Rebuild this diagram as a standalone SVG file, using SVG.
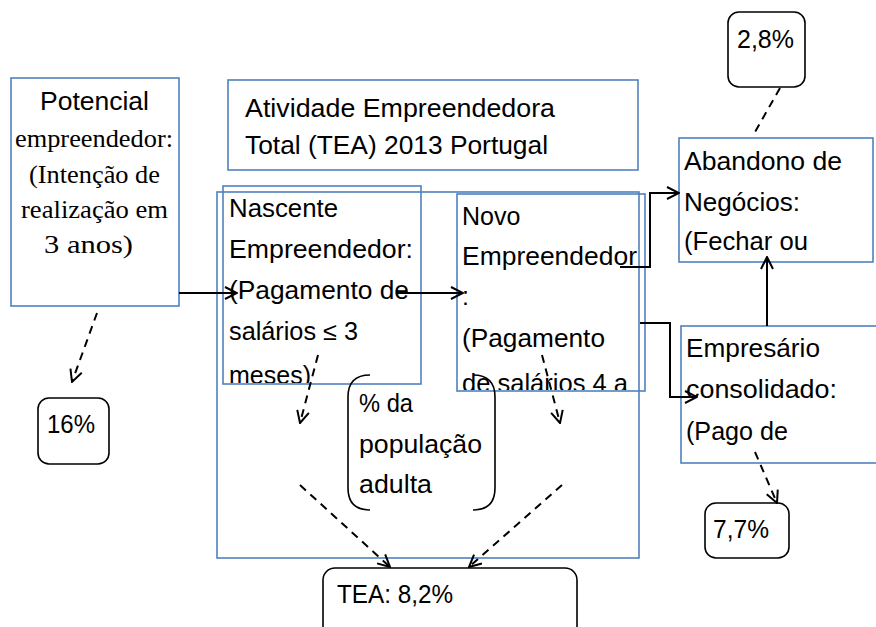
<svg xmlns="http://www.w3.org/2000/svg" width="876" height="627" viewBox="0 0 876 627">
<style>
.box{fill:none;stroke:#4F81BD;stroke-width:1.6}
.rbox{fill:none;stroke:#000;stroke-width:1.6}
.t{font-family:"Liberation Sans",Arial,sans-serif;font-size:25px;fill:#000}
.s{font-family:"Liberation Serif","Times New Roman",serif;font-size:25px;fill:#000}
.c{fill:none;stroke:#000;stroke-width:2;marker-end:url(#ah)}
.d{fill:none;stroke:#000;stroke-width:2;stroke-dasharray:8 6}
.da{marker-end:url(#ah)}
</style>
<defs>
<marker id="ah" markerUnits="userSpaceOnUse" viewBox="0 0 14 14" refX="13" refY="7" markerWidth="14" markerHeight="14" orient="auto">
<path d="M1,1 L13,7 L1,13" fill="none" stroke="#000" stroke-width="2"/>
</marker>
<clipPath id="clipN"><rect x="224" y="187" width="197" height="196"/></clipPath>
<clipPath id="clipV"><rect x="457" y="195" width="188" height="195"/></clipPath>
</defs>
<rect width="876" height="627" fill="#fff"/>

<g id="outer"><rect class="box" x="217" y="192" width="422" height="366"/></g>

<g id="potencial">
<rect class="box" x="11" y="78" width="168" height="228"/>
<text class="t" x="40" y="110" textLength="109" lengthAdjust="spacingAndGlyphs">Potencial</text>
<text class="s" x="15" y="147" textLength="158" lengthAdjust="spacingAndGlyphs">empreendedor:</text>
<text class="s" x="29" y="183" textLength="131" lengthAdjust="spacingAndGlyphs">(Intenção de</text>
<text class="s" x="21" y="218" textLength="147" lengthAdjust="spacingAndGlyphs">realização em</text>
<text class="s" x="44" y="253" textLength="89" lengthAdjust="spacingAndGlyphs">3 anos)</text>
</g>

<g id="titulo">
<rect class="box" x="228" y="80" width="410" height="90"/>
<text class="t" x="245" y="117" textLength="310" lengthAdjust="spacingAndGlyphs">Atividade Empreendedora</text>
<text class="t" x="245" y="154" textLength="303" lengthAdjust="spacingAndGlyphs">Total (TEA) 2013 Portugal</text>
</g>

<g id="nascente">
<rect class="box" x="223" y="186" width="198" height="198"/>
<g clip-path="url(#clipN)">
<text class="t" x="229" y="217" textLength="109" lengthAdjust="spacingAndGlyphs">Nascente</text>
<text class="t" x="229" y="258" textLength="184" lengthAdjust="spacingAndGlyphs">Empreendedor:</text>
<text class="t" x="229" y="299" textLength="180" lengthAdjust="spacingAndGlyphs">(Pagamento de</text>
<text class="t" x="229" y="340" textLength="129" lengthAdjust="spacingAndGlyphs">salários ≤ 3</text>
<text class="t" x="229" y="384">meses)</text>
</g>
</g>

<g id="novo">
<rect class="box" x="457" y="194" width="188" height="197"/>
<g clip-path="url(#clipV)">
<text class="t" x="462" y="225">Novo</text>
<text class="t" x="462" y="265" textLength="175" lengthAdjust="spacingAndGlyphs">Empreendedor</text>
<text class="t" x="462" y="305">:</text>
<text class="t" x="462" y="347" textLength="143" lengthAdjust="spacingAndGlyphs">(Pagamento</text>
<text class="t" x="462" y="392" textLength="166" lengthAdjust="spacingAndGlyphs">de salários 4 a</text>
</g>
</g>

<g id="abandono">
<rect class="box" x="679" y="138" width="194" height="124"/>
<text class="t" x="684" y="170" textLength="158" lengthAdjust="spacingAndGlyphs">Abandono de</text>
<text class="t" x="684" y="211" textLength="116" lengthAdjust="spacingAndGlyphs">Negócios:</text>
<text class="t" x="684" y="250" textLength="124" lengthAdjust="spacingAndGlyphs">(Fechar ou</text>
</g>

<g id="empresario">
<rect class="box" x="681" y="326" width="210" height="137"/>
<text class="t" x="686" y="357" textLength="134" lengthAdjust="spacingAndGlyphs">Empresário</text>
<text class="t" x="686" y="398" textLength="151" lengthAdjust="spacingAndGlyphs">consolidado:</text>
<text class="t" x="686" y="440" textLength="102" lengthAdjust="spacingAndGlyphs">(Pago de</text>
</g>

<g id="p28">
<rect class="rbox" x="728" y="12" width="77" height="75" rx="11"/>
<text class="t" x="737" y="48" textLength="57" lengthAdjust="spacingAndGlyphs">2,8%</text>
</g>

<g id="p16">
<rect class="rbox" x="38" y="398" width="71" height="66" rx="11"/>
<text class="t" x="47" y="433" textLength="48" lengthAdjust="spacingAndGlyphs">16%</text>
</g>

<g id="p77">
<rect class="rbox" x="705" y="503" width="84" height="55" rx="11"/>
<text class="t" x="713" y="538" textLength="56" lengthAdjust="spacingAndGlyphs">7,7%</text>
</g>

<g id="tea">
<rect class="rbox" x="323" y="568" width="254" height="75" rx="12"/>
<text class="t" x="337" y="603" textLength="116" lengthAdjust="spacingAndGlyphs">TEA: 8,2%</text>
</g>

<g id="populacao">
<path class="rbox" d="M370,375 Q348,375 348,397 L348,488 Q348,510 370,510"/>
<path class="rbox" d="M473,375 Q495,375 495,397 L495,488 Q495,510 473,510"/>
<text class="t" x="359" y="412" textLength="54" lengthAdjust="spacingAndGlyphs">% da</text>
<text class="t" x="359" y="453" textLength="123" lengthAdjust="spacingAndGlyphs">população</text>
<text class="t" x="359" y="493" textLength="73" lengthAdjust="spacingAndGlyphs">adulta</text>
</g>

<g id="connectors">
<line class="c" x1="179" y1="293" x2="237" y2="293"/>
<line class="c" x1="397" y1="293" x2="463" y2="293"/>
<polyline class="c" points="620,267 650,267 650,193 679,193"/>
<polyline class="c" points="640,323 670,323 670,397 697,397"/>
<line class="c" x1="767" y1="326" x2="767" y2="257"/>
<line class="d" x1="780" y1="88" x2="755" y2="132"/>
<line class="d da" x1="97" y1="313" x2="72" y2="382"/>
<line class="d da" x1="318" y1="355" x2="300" y2="423"/>
<line class="d da" x1="542" y1="355" x2="560" y2="423"/>
<line class="d da" x1="300" y1="485" x2="390" y2="567"/>
<line class="d da" x1="562" y1="485" x2="469" y2="567"/>
<line class="d da" x1="755" y1="452" x2="777" y2="503"/>
</g>
</svg>
